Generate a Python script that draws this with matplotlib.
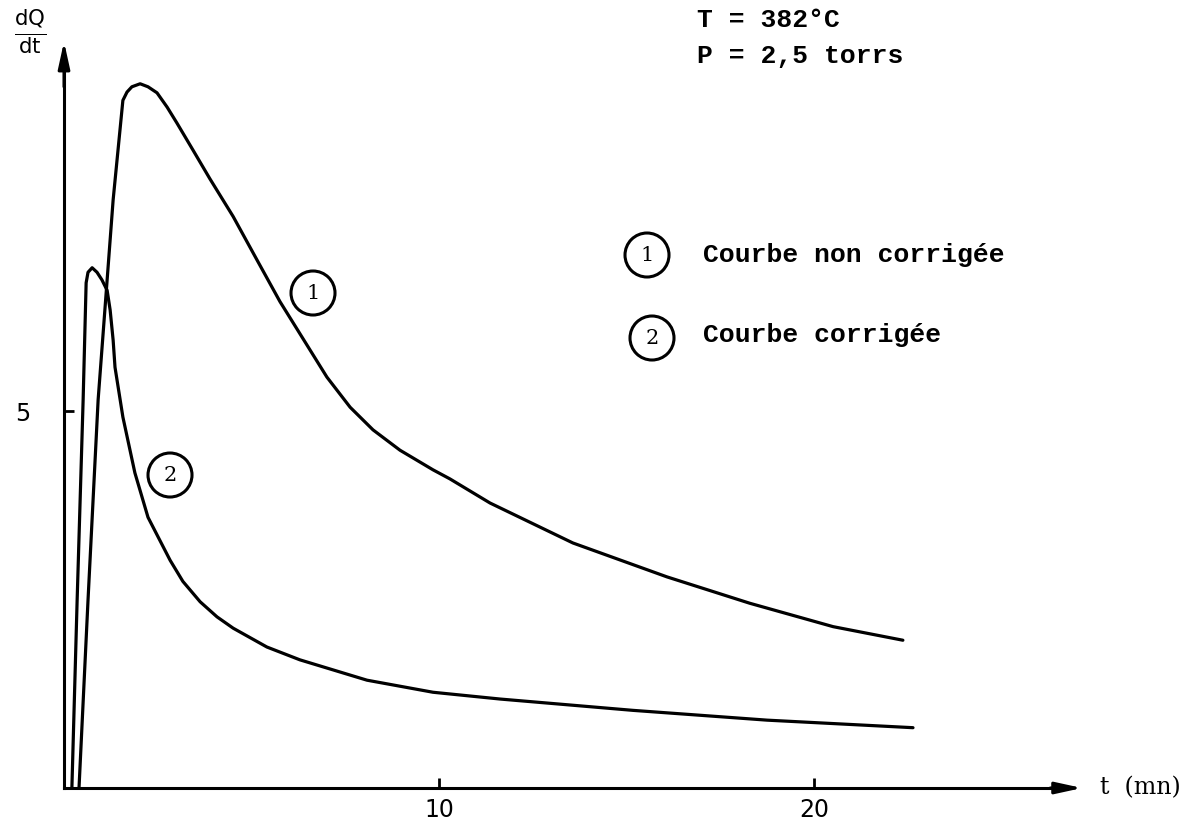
import matplotlib
matplotlib.use("Agg")
import matplotlib.pyplot as plt

# ---- data (t in minutes, dQ/dt arbitrary units) ----
t_curve1 = [0.40, 0.64, 0.91, 1.31, 1.44, 1.57, 1.68, 1.81, 2.03, 2.24, 2.48, 2.75,
            3.01, 3.44, 3.89, 4.51, 5.15, 5.76, 6.56, 7.01, 7.63, 8.24, 8.96, 9.84,
            10.29, 11.36, 13.57, 16.08, 18.29, 20.51, 22.37]
q_curve1 = [0.00, 2.49, 5.15, 7.80, 8.46, 9.12, 9.23, 9.30, 9.34, 9.30, 9.22, 9.03,
            8.82, 8.46, 8.08, 7.58, 7.00, 6.45, 5.81, 5.45, 5.05, 4.75, 4.48, 4.22,
            4.10, 3.78, 3.25, 2.80, 2.45, 2.14, 1.96]

t_curve2 = [0.21, 0.35, 0.51, 0.59, 0.64, 0.75, 0.88, 1.01, 1.15, 1.23, 1.31, 1.36,
            1.57, 1.89, 2.24, 2.83, 3.17, 3.63, 4.08, 4.51, 5.41, 6.29, 8.08, 9.84,
            11.63, 15.17, 18.75, 22.64]
q_curve2 = [0.00, 2.49, 5.15, 6.70, 6.84, 6.90, 6.84, 6.74, 6.60, 6.34, 5.94, 5.58,
            4.92, 4.18, 3.59, 3.02, 2.74, 2.47, 2.27, 2.12, 1.87, 1.70, 1.43, 1.27,
            1.18, 1.03, 0.90, 0.80]

x_ticks = [10, 20]
x_tick_labels = ["10", "20"]
y_ticks = [5]
y_tick_labels = ["5"]

legend_labels = ["Courbe non corrigée", "Courbe corrigée"]
curve_ids = ["1", "2"]
header_lines = ["T = 382°C", "P = 2,5 torrs"]

MONO = ["Liberation Mono", "DejaVu Sans Mono"]

fig = plt.figure(figsize=(11.89, 8.23), dpi=100)
ax = fig.add_axes([0, 0, 1, 1])
ax.set_xlim(-1.707, 30.0)
ax.set_ylim(-0.464, 10.451)

# axes as spines at zero
for s in ["top", "right"]:
    ax.spines[s].set_visible(False)
ax.spines["left"].set_position(("data", 0))
ax.spines["bottom"].set_position(("data", 0))
ax.spines["left"].set_bounds(0, 9.6)
ax.spines["bottom"].set_bounds(0, 26.6)
ax.spines["left"].set_linewidth(2.2)
ax.spines["bottom"].set_linewidth(2.2)

# arrow heads
ax.annotate("", xy=(0, 9.9), xytext=(0, 9.3),
            arrowprops=dict(arrowstyle="-|>,head_length=1.6,head_width=0.35",
                            color="black", lw=2.2, shrinkA=0, shrinkB=0))
ax.annotate("", xy=(27.15, 0), xytext=(26.3, 0),
            arrowprops=dict(arrowstyle="-|>,head_length=1.6,head_width=0.35",
                            color="black", lw=2.2, shrinkA=0, shrinkB=0))

ax.set_xticks(x_ticks)
ax.set_xticklabels(x_tick_labels)
ax.set_yticks(y_ticks)
ax.set_yticklabels(y_tick_labels)
ax.tick_params(axis="x", direction="in", length=7, width=2, labelsize=17, pad=7)
ax.tick_params(axis="y", direction="in", length=7, width=2, labelsize=17, pad=24)

# curves
ax.plot(t_curve1, q_curve1, color="black", lw=2.3, solid_joinstyle="round",
        solid_capstyle="round")
ax.plot(t_curve2, q_curve2, color="black", lw=2.3, solid_joinstyle="round",
        solid_capstyle="round")

# circled curve ids near curves
circ = dict(boxstyle="circle,pad=0.6", fc="none", ec="black", lw=2.2)
ax.text((313 - 64) / 37.5, (788 - 293) / 75.4, curve_ids[0], fontsize=15,
        family="DejaVu Serif", ha="center", va="center", bbox=circ)
ax.text((170 - 64) / 37.5, (788 - 475) / 75.4, curve_ids[1], fontsize=15,
        family="DejaVu Serif", ha="center", va="center", bbox=circ)

# legend-like annotation
ax.text((647 - 64) / 37.5, (788 - 255) / 75.4, curve_ids[0], fontsize=15,
        family="DejaVu Serif", ha="center", va="center", bbox=circ)
ax.text((652 - 64) / 37.5, (788 - 338) / 75.4, curve_ids[1], fontsize=15,
        family="DejaVu Serif", ha="center", va="center", bbox=circ)
ax.text((703 - 64) / 37.5, (788 - 255) / 75.4, legend_labels[0], fontsize=19,
        family=MONO, ha="left", va="center", weight="bold")
ax.text((703 - 64) / 37.5, (788 - 335) / 75.4, legend_labels[1], fontsize=19,
        family=MONO, ha="left", va="center", weight="bold")

# header
ax.text((697 - 64) / 37.5, (788 - 20) / 75.4, header_lines[0], fontsize=19,
        family=MONO, ha="left", va="center", weight="bold")
ax.text((697 - 64) / 37.5, (788 - 56) / 75.4, header_lines[1], fontsize=19,
        family=MONO, ha="left", va="center", weight="bold")

# axis labels
ax.text((1100 - 64) / 37.5, 0, "t  (mn)", fontsize=17, family="DejaVu Serif",
        ha="left", va="center")
ax.text((30 - 64) / 37.5, (788 - 32) / 75.4, r"$\frac{\mathrm{dQ}}{\mathrm{dt}}$",
        fontsize=22, ha="center", va="center")

fig.savefig("out.png", dpi=100, facecolor="white")
